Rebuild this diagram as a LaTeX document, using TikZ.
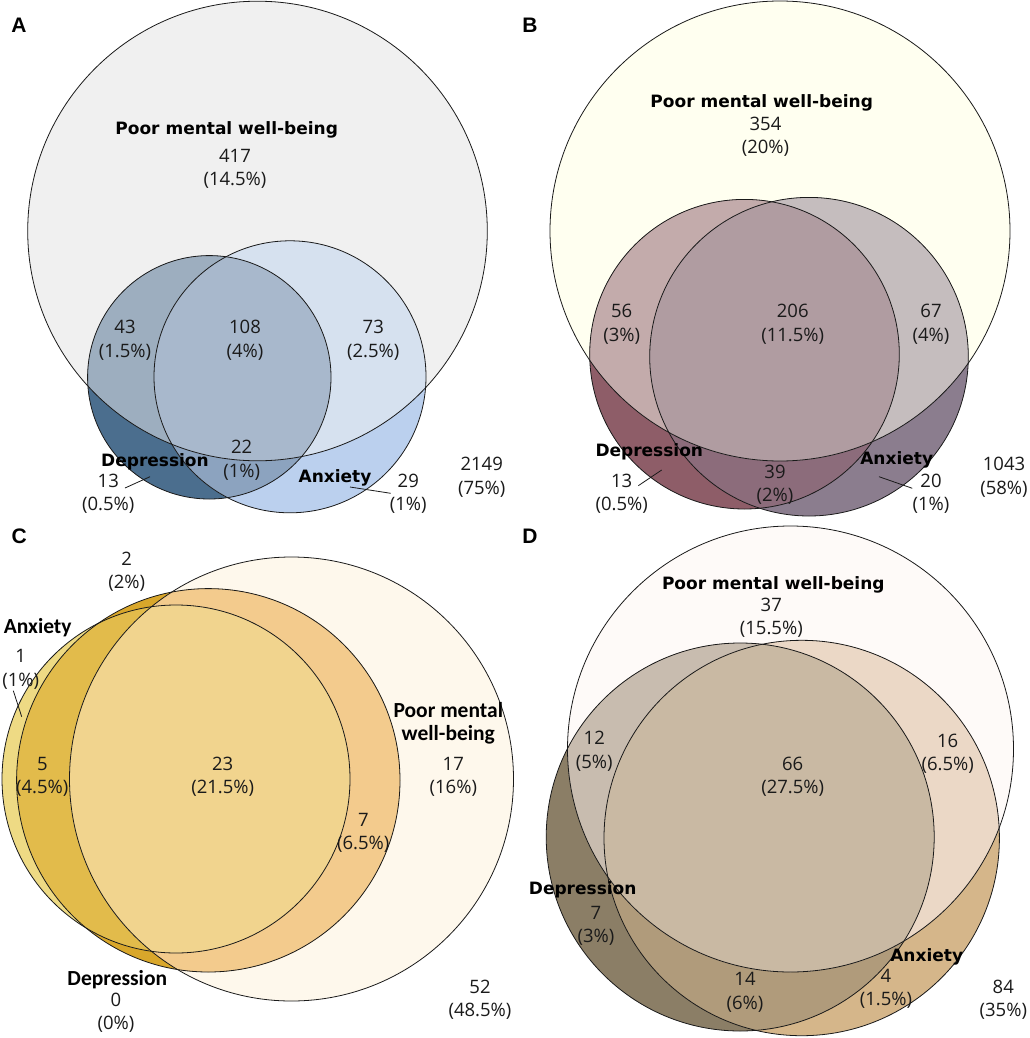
\documentclass[tikz,border=0pt]{standalone}
\usepackage{fontspec}
\newfontfamily\numf{Open Sans}
\newfontfamily\labf{DejaVu Sans}
\newfontfamily\cfnt{Carlito}
\newfontfamily\letf{Liberation Sans}
% panel A colours
\definecolor{aP}{HTML}{F0F0F0}\definecolor{aD}{HTML}{4B6E8E}\definecolor{aA}{HTML}{BBD0EE}
\definecolor{aDA}{HTML}{8CA3BF}\definecolor{aPD}{HTML}{9DAEBF}\definecolor{aPA}{HTML}{D6E1EF}
\definecolor{aPDA}{HTML}{A8B8CC}
% panel B colours
\definecolor{bP}{HTML}{FFFFF0}\definecolor{bD}{HTML}{8E5D68}\definecolor{bA}{HTML}{8B7D8E}
\definecolor{bDA}{HTML}{8C6C7B}\definecolor{bPD}{HTML}{C3ABAB}\definecolor{bPA}{HTML}{C5BDBE}
\definecolor{bPDA}{HTML}{B09CA1}
% panel C colours
\definecolor{cP}{HTML}{FEF8EC}\definecolor{cD}{HTML}{D9A72B}\definecolor{cA}{HTML}{EEDA84}
\definecolor{cDA}{HTML}{E2BB4B}\definecolor{cPD}{HTML}{F3CB8D}\definecolor{cPA}{HTML}{F1D48E}
\definecolor{cPDA}{HTML}{F1D48E}
% panel D colours
\definecolor{dP}{HTML}{FEFAF8}\definecolor{dD}{HTML}{8B7E66}\definecolor{dA}{HTML}{D5B68A}
\definecolor{dDA}{HTML}{B09B7B}\definecolor{dPD}{HTML}{C8BCAF}\definecolor{dPA}{HTML}{EBD8C6}
\definecolor{dPDA}{HTML}{C9B9A3}
\definecolor{ink}{HTML}{1A1A1A}

\newcommand{\vennpaint}[4]{%
  \fill[#1P] #2;
  \fill[#1D] #3;
  \fill[#1A] #4;
  \begin{scope}\clip #3; \fill[#1DA] #4; \end{scope}
  \begin{scope}\clip #2; \fill[#1PD] #3; \fill[#1PA] #4; \clip #3; \fill[#1PDA] #4; \end{scope}
  \draw[vline] #2; \draw[vline] #3; \draw[vline] #4;
}

\tikzset{
  vline/.style={draw=ink, line width=0.8pt},
  num/.style={font=\numf\fontsize{18.5}{23.4}\selectfont, align=center, inner sep=0pt, text=ink},
  lab/.style={font=\labf\bfseries\fontsize{17}{20}\selectfont, inner sep=0pt, text=black},
  clab/.style={font=\cfnt\bfseries\fontsize{21.5}{23.3}\selectfont, inner sep=0pt, align=center, text=black},
  plet/.style={font=\letf\bfseries\fontsize{21}{24}\selectfont, inner sep=0pt, text=black},
  leader/.style={draw=ink, line width=0.8pt},
}

\begin{document}
\begin{tikzpicture}[x=1pt,y=-1pt]
\useasboundingbox (0,0) rectangle (1029,1038);
\fill[white] (0,0) rectangle (1029,1038);

% ---------------- Panel A ----------------
\vennpaint{a}{(257.5,231) circle (229.8pt)}{(209.3,377.3) circle (121.7pt)}{(290,376.8) circle (136pt)}
\node[plet] (letA) at (19,25) {A};
\node[lab] (pA) at (226.7,129.8) {Poor mental well-being};
\node[num] (a417) at (235,168.7) {417\\(14.5\%)};
\node[num] (a43) at (125,340.3) {43\\(1.5\%)};
\node[num] (a108) at (245,340.3) {108\\(4\%)};
\node[num] (a73) at (373.3,340.3) {73\\(2.5\%)};
\node[num] (a22) at (241.7,460.3) {22\\(1\%)};
\node[lab] (dA) at (155,461.5) {Depression};
\node[num] (a13) at (108.3,494) {13\\(0.5\%)};
\node[lab] (xA) at (335,478) {Anxiety};
\node[num] (a29) at (408.3,494) {29\\(1\%)};
\node[num] (a2149) at (481.7,477.3) {2149\\(75\%)};
\coordinate (a13s) at (125,488); \coordinate (a13e) at (150,476.7);
\coordinate (a29s) at (390.7,493.3); \coordinate (a29e) at (350,487);
\draw[leader] (a13s) -- (a13e);
\draw[leader] (a29s) -- (a29e);

% ---------------- Panel B ----------------
\vennpaint{b}{(780,231) circle (230pt)}{(744.5,354.2) circle (154.8pt)}{(809,356.7) circle (159.3pt)}
\node[plet] (letB) at (530,25) {B};
\node[lab] (pB) at (761.7,102.5) {Poor mental well-being};
\node[num] (b354) at (765.5,136.7) {354\\(20\%)};
\node[num] (b56) at (621.7,324.3) {56\\(3\%)};
\node[num] (b206) at (792.7,324.3) {206\\(11.5\%)};
\node[num] (b67) at (931,324.3) {67\\(4\%)};
\node[lab] (dB) at (649.3,451.5) {Depression};
\node[num] (b39) at (775,484.8) {39\\(2\%)};
\node[num] (b13) at (621.7,494) {13\\(0.5\%)};
\node[lab] (xB) at (896.7,459.8) {Anxiety};
\node[num] (b20) at (931,494) {20\\(1\%)};
\node[num] (b1043) at (1004,477.3) {1043\\(58\%)};
\coordinate (b13s) at (638.3,485.7); \coordinate (b13e) at (661.7,470);
\coordinate (b20s) at (912.3,488.3); \coordinate (b20e) at (879,476.7);
\draw[leader] (b13s) -- (b13e);
\draw[leader] (b20s) -- (b20e);

% ---------------- Panel C ----------------
\vennpaint{c}{(291.5,779) circle (222pt)}{(208.3,780.3) circle (191.7pt)}{(176,779) circle (174pt)}
\node[plet] (letC) at (19.3,536.7) {C};
\node[num] (c2) at (126.7,572) {2\\(2\%)};
\node[clab] (xC) at (37.7,628) {Anxiety};
\node[num] (c1) at (20.7,669.2) {1\\(1\%)};
\node[clab] (pC) at (448.3,723) {Poor mental\\well-being};
\node[num] (c5) at (42.3,777) {5\\(4.5\%)};
\node[num] (c23) at (222.7,777) {23\\(21.5\%)};
\node[num] (c17) at (453.3,777) {17\\(16\%)};
\node[num] (c7) at (363.3,833) {7\\(6.5\%)};
\node[clab] (dC) at (117.3,980) {Depression};
\node[num] (c0) at (116,1013) {0\\(0\%)};
\node[num] (c52) at (480,999.7) {52\\(48.5\%)};
\coordinate (c1s) at (13.3,690.7); \coordinate (c1e) at (21.7,716.7);
\draw[leader] (c1s) -- (c1e);

% ---------------- Panel D ----------------
\vennpaint{d}{(790.5,749) circle (223pt)}{(740.2,837) circle (194pt)}{(801.7,838) circle (197.7pt)}
\node[plet] (letD) at (530,536.7) {D};
\node[lab] (pD) at (773.3,584.8) {Poor mental well-being};
\node[num] (d37) at (771.3,617.8) {37\\(15.5\%)};
\node[num] (d12) at (594.3,751.2) {12\\(5\%)};
\node[num] (d66) at (792.7,777) {66\\(27.5\%)};
\node[num] (d16) at (947.7,754) {16\\(6.5\%)};
\node[lab] (dDl) at (582.7,889.8) {Depression};
\node[num] (d7) at (596,925.8) {7\\(3\%)};
\node[num] (d14) at (745,992.5) {14\\(6\%)};
\node[lab] (xD) at (926.7,956.5) {Anxiety};
\node[num] (d4) at (886,989) {4\\(1.5\%)};
\node[num] (d84) at (1003.3,999.7) {84\\(35\%)};
\end{tikzpicture}
\end{document}
